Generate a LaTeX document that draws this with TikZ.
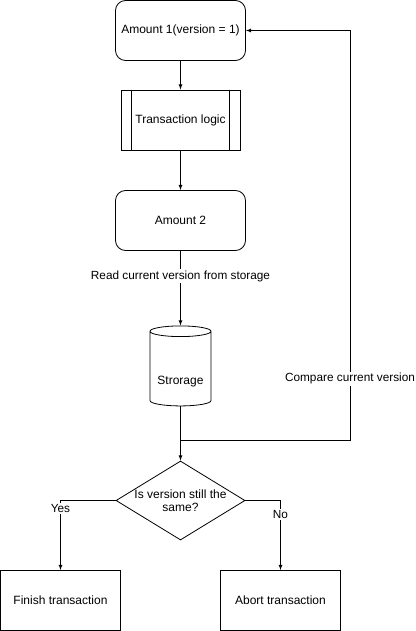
\documentclass[tikz,border=0pt]{standalone}
\usepackage{fontspec}
\setmainfont{Liberation Sans}
\usetikzlibrary{arrows,shapes.geometric}

\begin{document}
\begin{tikzpicture}[x=1pt,y=-1pt,>=latex,line width=0.8pt,font=\fontsize{12}{14}\selectfont]
\tikzset{lbl/.style={fill=white,inner sep=1.5pt,font=\fontsize{11.8}{13}\selectfont}}
\useasboundingbox (0,0) rectangle (415,631);

\node[draw,rounded corners=10pt,minimum width=130pt,minimum height=60pt] (A) at (180.5,30.5) {Amount 1(version = 1)};
\node[draw,minimum width=119pt,minimum height=60pt] (B) at (180.5,120) {Transaction logic};
\draw ([xshift=11pt]B.north west) -- ([xshift=11pt]B.south west);
\draw ([xshift=-11pt]B.north east) -- ([xshift=-11pt]B.south east);
\node[draw,rounded corners=10pt,minimum width=130pt,minimum height=60pt] (C) at (180.5,220.5) {Amount 2};
\node[draw,cylinder,shape border rotate=90,aspect=1.6,minimum width=61pt,minimum height=80pt,label={[yshift=-12pt]center:Strorage}] (S) at (180.5,370) {};
\node[draw,diamond,minimum width=129pt,minimum height=79pt,inner sep=0pt,label={[align=center,font=\fontsize{12}{13.5}\selectfont]center:Is version still the\\same?}] (D) at (180.5,500.5) {};
\node[draw,minimum width=119.5pt,minimum height=60pt] (F) at (60.5,600.5) {Finish transaction};
\node[draw,minimum width=120pt,minimum height=60pt] (G) at (280.5,600.5) {Abort transaction};

\coordinate (c1) at (350,440);
\coordinate (c2) at (350,30.5);

\path[->] (A) edge (B);
\path[->] (B) edge (C);
\path[->] (C) edge node[lbl,pos=0.34] {Read current version from storage} (S);
\path[->] (S) edge (D);
\draw[->] (S.south) |- (c1) -- node[lbl,pos=0.15] {Compare current version} (c2) -- (A.east);
\draw[->] (D.west) -| node[lbl,pos=0.56] {Yes} (F.north);
\draw[->] (D.east) -| node[lbl,pos=0.6] {No} (G.north);
\end{tikzpicture}
\end{document}
